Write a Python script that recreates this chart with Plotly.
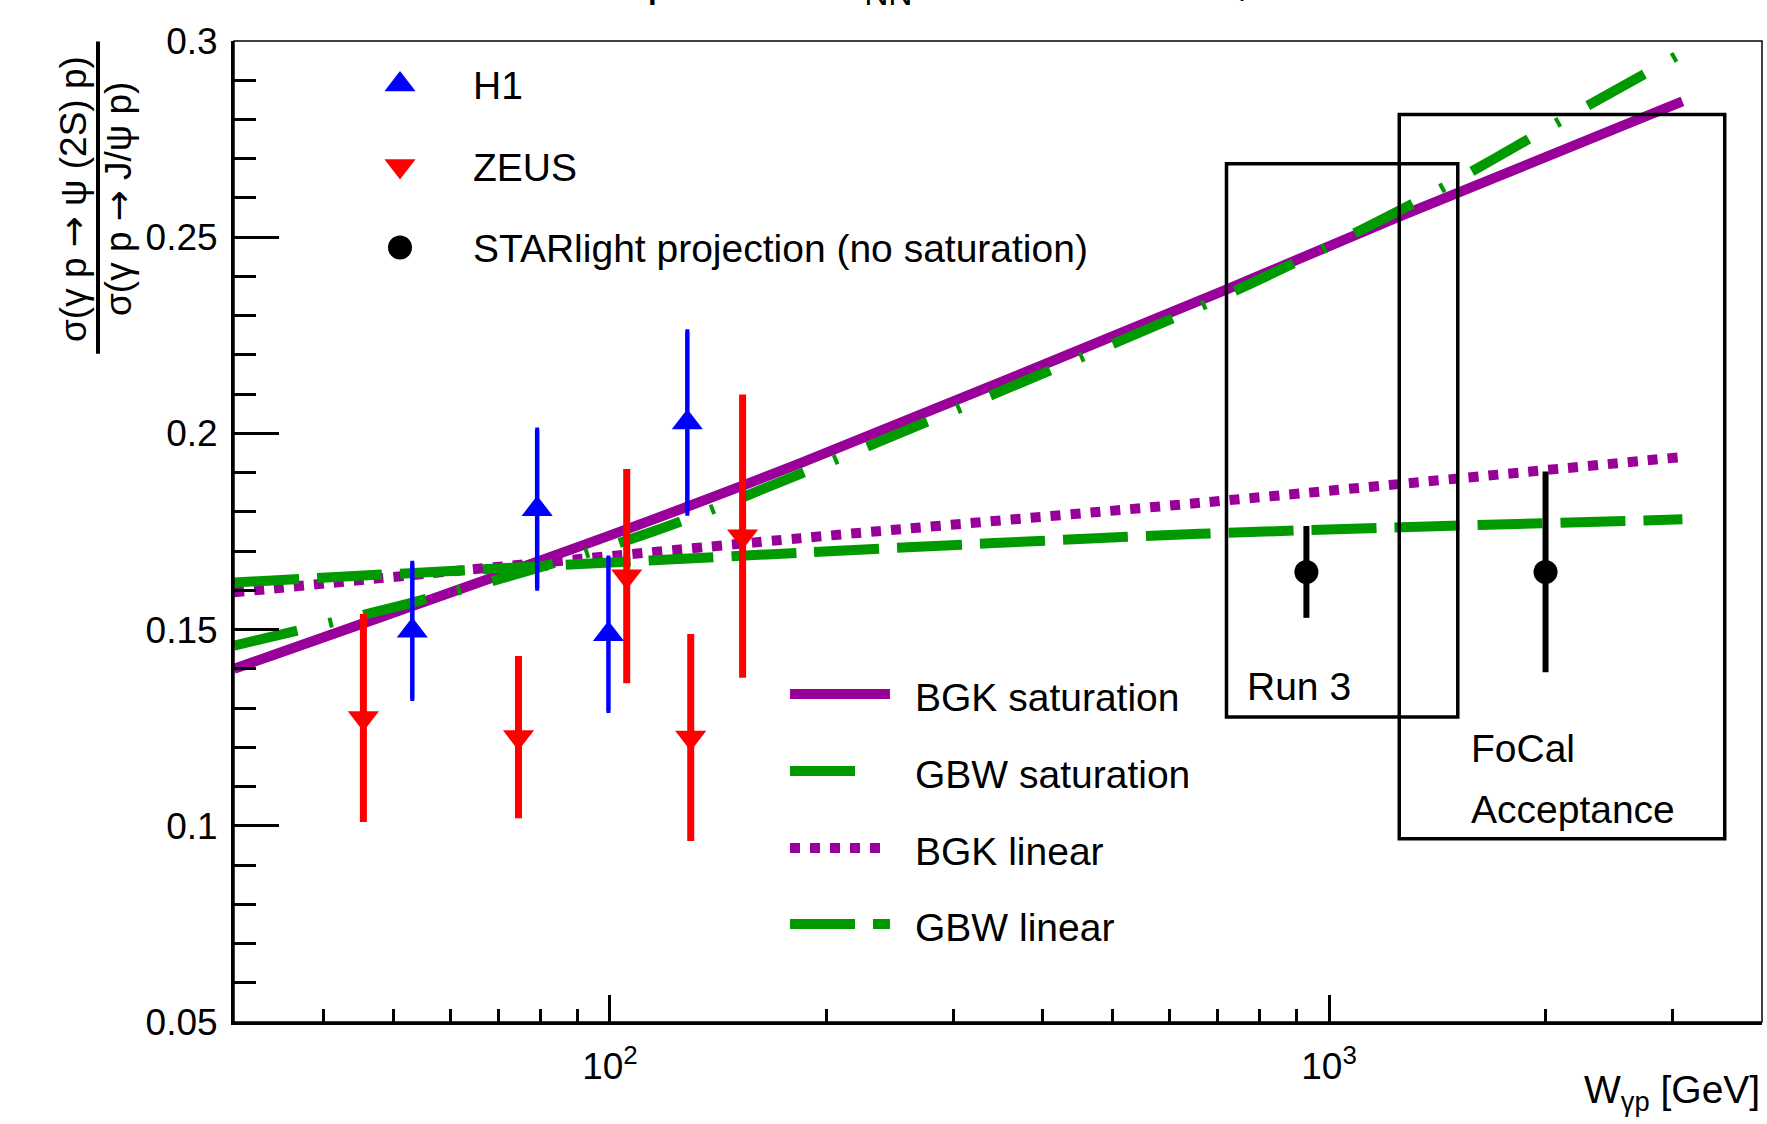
import numpy as np
import plotly.graph_objects as go

# ---------------- data ----------------
# H1 measurements of sigma(psi(2S))/sigma(J/psi)
h1_w = [53.1, 79.2, 99.5, 128.1]
h1_ratio = [0.1497, 0.1807, 0.1488, 0.2028]
h1_err = [0.0173, 0.0202, 0.0195, 0.0232]

# ZEUS measurements
zeus_w = [45.4, 74.6, 105.5, 129.5, 152.9]
zeus_ratio = [0.1275, 0.1226, 0.1636, 0.1225, 0.1738]
zeus_err = [0.0265, 0.0207, 0.0273, 0.0264, 0.0361]

# STARlight projection (no saturation)
star_w = [930, 2000]
star_ratio = [0.1647, 0.1647]
star_err = [0.0117, 0.0256]

# model predictions
bgk_sat_w = [30, 100, 184, 718, 1254, 3100]
bgk_sat = [0.1400, 0.1740, 0.1924, 0.2366, 0.2553, 0.2846]

gbw_sat_w = [30, 52.6, 80.4, 122.7, 661, 939, 1396, 2060, 3100]
gbw_sat = [0.1459, 0.1567, 0.1660, 0.1769, 0.2323, 0.2453, 0.2613, 0.2788, 0.2970]

bgk_lin_w = [30, 184, 661, 3100]
bgk_lin = [0.1595, 0.1733, 0.1823, 0.1940]

gbw_lin_w = [30, 184, 661, 3100]
gbw_lin = [0.1620, 0.1696, 0.1744, 0.1781]

# kinematic regions
run3_w = [720, 1510]
run3_ratio = [0.1277, 0.2687]
focal_w = [1252, 3550]
focal_ratio = [0.0967, 0.2813]

# axis ticks
x_major = [100, 1000]
x_major_text = ["10<sup>2</sup>", "10<sup>3</sup>"]
x_minor = [40, 50, 60, 70, 80, 90, 200, 300, 400, 500, 600, 700, 800, 900, 2000, 3000]

# ---------------- styling ----------------
FONT = "Liberation Sans, Arial, Helvetica, sans-serif"
PURPLE = "#990099"
GREEN = "#009900"
LW = 10
TRI = 27
DASH_BGK_SAT = "solid"
DASH_GBW_SAT = "65px,32px,4px,32px"
DASH_BGK_LIN = "10px,10px"
DASH_GBW_LIN = "65px,18px"
ARROW = '<span style="font-family:DejaVu Sans">→</span>'

# page layout (pixels)
W, H = 1767, 1124
L, R, T, B = 234, 1762, 41, 1022


def px_x(p):
    return (p - L) / (R - L)


def px_y(p):
    return 1 - (p - T) / (B - T)


fig = go.Figure()

# model curves
for xs, ys, color, dash in [
    (bgk_sat_w, bgk_sat, PURPLE, DASH_BGK_SAT),
    (gbw_sat_w, gbw_sat, GREEN, DASH_GBW_SAT),
    (bgk_lin_w, bgk_lin, PURPLE, DASH_BGK_LIN),
    (gbw_lin_w, gbw_lin, GREEN, DASH_GBW_LIN),
]:
    fig.add_trace(go.Scatter(
        x=xs, y=ys, mode="lines",
        line=dict(color=color, width=LW, dash=dash, shape="spline", smoothing=0.8),
        hoverinfo="skip",
    ))

# data points
fig.add_trace(go.Scatter(
    x=zeus_w, y=zeus_ratio, mode="markers",
    marker=dict(symbol="triangle-down", size=TRI, color="red"),
    error_y=dict(type="data", array=zeus_err, color="red", thickness=7, width=0),
))
fig.add_trace(go.Scatter(
    x=h1_w, y=h1_ratio, mode="markers",
    marker=dict(symbol="triangle-up", size=TRI, color="blue"),
    error_y=dict(type="data", array=h1_err, color="blue", thickness=4.5, width=2),
))
fig.add_trace(go.Scatter(
    x=star_w, y=star_ratio, mode="markers",
    marker=dict(symbol="circle", size=24, color="black"),
    error_y=dict(type="data", array=star_err, color="black", thickness=6, width=0),
))

# legend keys, drawn on a pixel-space overlay
marker_keys = [("triangle-up", "blue", 84.5, "H1"),
               ("triangle-down", "red", 166, "ZEUS"),
               ("circle", "black", 247.5, "STARlight projection (no saturation)")]
for sym, col, yk, _ in marker_keys:
    fig.add_trace(go.Scatter(
        x=[400], y=[yk], xaxis="x2", yaxis="y2", mode="markers",
        marker=dict(symbol=sym, size=TRI if sym != "circle" else 24, color=col),
        hoverinfo="skip",
    ))

line_keys = [(PURPLE, DASH_BGK_SAT, 694, "BGK saturation", 890),
             (GREEN, DASH_GBW_SAT, 771, "GBW saturation", 886),
             (PURPLE, DASH_BGK_LIN, 848, "BGK linear", 890),
             (GREEN, DASH_GBW_LIN, 924, "GBW linear", 890)]
for col, dash, yk, _, xend in line_keys:
    fig.add_trace(go.Scatter(
        x=[790, xend], y=[yk, yk], xaxis="x2", yaxis="y2", mode="lines",
        line=dict(color=col, width=LW, dash=dash),
        hoverinfo="skip",
    ))

annotations = []
for _, _, yk, label in marker_keys:
    annotations.append(dict(x=471, y=yk + 1, xref="x2", yref="y2", text=label,
                            xanchor="left", yanchor="middle", showarrow=False,
                            font=dict(size=39)))
for _, _, yk, label, _ in line_keys:
    annotations.append(dict(x=913, y=yk + 3, xref="x2", yref="y2", text=label,
                            xanchor="left", yanchor="middle", showarrow=False,
                            font=dict(size=39)))

for txt, xa, ya in [("Run 3", 1245, 686), ("FoCal", 1469, 748), ("Acceptance", 1469, 809)]:
    annotations.append(dict(x=xa, y=ya, xref="x2", yref="y2", text=txt,
                            xanchor="left", yanchor="middle", showarrow=False,
                            font=dict(size=39)))

# y-axis title as a fraction
annotations.append(dict(x=px_x(74), y=px_y(199), xref="paper", yref="paper",
                        text=f"σ(γ p {ARROW} ψ (2S) p)", textangle=-90,
                        xanchor="center", yanchor="middle", showarrow=False,
                        font=dict(size=37)))
annotations.append(dict(x=px_x(119), y=px_y(199), xref="paper", yref="paper",
                        text=f"σ(γ p {ARROW} J/ψ p)", textangle=-90,
                        xanchor="center", yanchor="middle", showarrow=False,
                        font=dict(size=37)))

# x-axis title
annotations.append(dict(x=1.0, y=px_y(1066), xref="paper", yref="paper",
                        text="W<sub>γp</sub> [GeV]",
                        xanchor="right", yanchor="top", showarrow=False,
                        font=dict(size=39)))

# title (runs off the top of the page)
annotations.append(dict(x=px_x(645), y=px_y(14), xref="paper", yref="paper",
                        text="p + Pb  √s<sub>NN</sub>  =  8.16  TeV   , ALICE FoCal",
                        xanchor="left", yanchor="bottom", showarrow=False,
                        font=dict(size=48)))

shapes = [
    # thin frame on top / right
    dict(type="rect", xref="paper", yref="paper", x0=0, x1=1, y0=0, y1=1,
         line=dict(color="black", width=1.5), layer="above"),
    # fraction bar of the y title
    dict(type="line", xref="paper", yref="paper", x0=px_x(98), x1=px_x(98),
         y0=px_y(41.6), y1=px_y(353.7), line=dict(color="black", width=4)),
    # Run 3 and FoCal acceptance boxes
    dict(type="rect", xref="x", yref="y", x0=run3_w[0], x1=run3_w[1],
         y0=run3_ratio[0], y1=run3_ratio[1], line=dict(color="black", width=3.5), layer="above"),
    dict(type="rect", xref="x", yref="y", x0=focal_w[0], x1=focal_w[1],
         y0=focal_ratio[0], y1=focal_ratio[1], line=dict(color="black", width=3.5), layer="above"),
]

fig.update_layout(
    width=W, height=H,
    margin=dict(l=L, r=W - R, t=T, b=H - B),
    paper_bgcolor="white", plot_bgcolor="white",
    showlegend=False,
    font=dict(family=FONT, size=36, color="black"),
    xaxis=dict(
        type="log", range=[np.log10(30), np.log10(4000)],
        tickmode="array", tickvals=x_major, ticktext=x_major_text,
        ticks="inside", ticklen=27, tickwidth=3, tickcolor="black",
        minor=dict(tickmode="array", tickvals=x_minor, ticks="inside",
                   ticklen=13, tickwidth=2.5, tickcolor="black"),
        showline=True, linewidth=3, linecolor="black",
        showgrid=False, zeroline=False,
        tickfont=dict(size=37), ticklabelstandoff=10,
    ),
    yaxis=dict(
        range=[0.05, 0.3], tick0=0.05, dtick=0.05,
        ticks="inside", ticklen=45, tickwidth=3, tickcolor="black",
        minor=dict(dtick=0.01, ticks="inside", ticklen=22, tickwidth=3, tickcolor="black"),
        showline=True, linewidth=3, linecolor="black",
        showgrid=False, zeroline=False,
        tickfont=dict(size=37), ticklabelstandoff=6,
    ),
    xaxis2=dict(overlaying="x", range=[L, R], visible=False),
    yaxis2=dict(overlaying="y", range=[B, T], visible=False),
    annotations=annotations,
    shapes=shapes,
)

fig.write_html("out.html")
